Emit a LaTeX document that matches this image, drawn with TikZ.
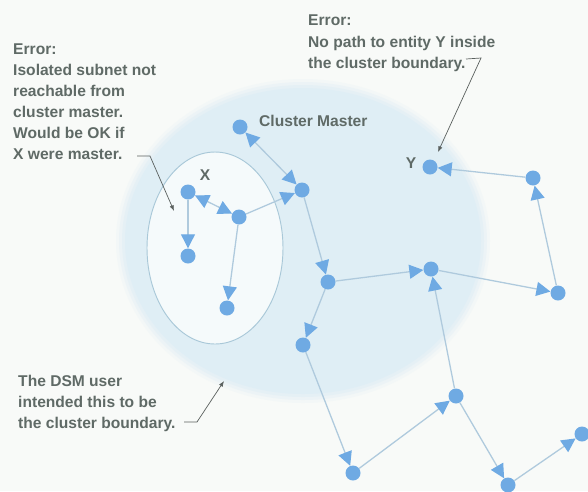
\documentclass[tikz,border=0pt]{standalone}
\usepackage{fontspec}
\setmainfont{Liberation Sans}
\usetikzlibrary{arrows.meta,positioning,calc}
\definecolor{paper}{HTML}{F8FAF8}
\definecolor{clusterFill}{HTML}{DFEEF5}
\definecolor{subnetFill}{HTML}{F5FAFB}
\definecolor{subnetLine}{HTML}{A9C8D8}
\definecolor{entityBlue}{HTML}{6FAAE3}
\definecolor{linkBlue}{HTML}{AFCADD}
\definecolor{ink}{HTML}{5F6A66}
\definecolor{leaderInk}{HTML}{5A605E}

\begin{document}
\begin{tikzpicture}[
  x=0.03cm, y=-0.03cm,
  font=\fontsize{13.3}{18}\selectfont\bfseries,
  enttip/.tip={Triangle[length=0.42cm, width=0.42cm, color=entityBlue]},
  entity/.style={circle, fill=entityBlue, minimum size=0.45cm, inner sep=0pt},
  link/.style={-enttip, draw=linkBlue, line width=1.1pt},
  twoway/.style={enttip-enttip, draw=linkBlue, line width=1.1pt},
  note/.style={text=ink, align=left, inner sep=0pt, anchor=north west},
  tag/.style={text=ink, inner sep=0pt, anchor=base},
  pointer/.style={draw=leaderInk, line width=0.6pt, -{Latex[length=1.7mm, width=1.3mm]}}
]
\useasboundingbox (0,0) rectangle (588,491);
\fill[paper] (0,0) rectangle (588,491);

% ------------------------------------------------------------------
% Cluster boundary and isolated subnet
% ------------------------------------------------------------------
\foreach \d/\o in {10/0.2,7/0.35,4/0.5} {
  \fill[clusterFill, opacity=\o] (303,241) ellipse [x radius=177+\d, y radius=152+\d];
}
\fill[clusterFill] (303,241) ellipse [x radius=178, y radius=153];
\draw[subnetLine, fill=subnetFill, line width=0.8pt] (215,248) ellipse [x radius=68, y radius=96];

% ------------------------------------------------------------------
% Entities
% ------------------------------------------------------------------
\node[entity] (master) at (240,127) {};
\node[entity] (relay)  at (302,190) {};
\node[entity] (x)      at (188,192) {};
\node[entity] (xhub)   at (239,217) {};
\node[entity] (xleaf)  at (188,256) {};
\node[entity] (xlow)   at (227,308) {};
\node[entity] (split)  at (328,282) {};
\node[entity] (cross)  at (431,269) {};
\node[entity] (east)   at (558,293) {};
\node[entity] (corner) at (533,178) {};
\node[entity] (y)      at (430,167) {};
\node[entity] (drop)   at (303,345) {};
\node[entity] (bottom) at (353,473) {};
\node[entity] (rise)   at (456,396) {};
\node[entity] (dip)    at (508,485) {};
\node[entity] (tail)   at (582,434) {};

\node[tag, anchor=base west] (mastertag) at (259,126) {Cluster Master};
\node[tag] (xtag) at (205,180) {X};
\node[tag] (ytag) at (411,168) {Y};

% ------------------------------------------------------------------
% Links
% ------------------------------------------------------------------
\draw[twoway] (master) -- (relay);
\draw[twoway] (x) -- (xhub);
\draw[link] (xhub) -- (relay);
\draw[link] (x) -- (xleaf);
\draw[link] (xhub) -- (xlow);
\draw[link] (relay) -- (split);
\draw[link] (split) -- (cross);
\draw[link] (cross) -- (east);
\draw[link] (east) -- (corner);
\draw[link] (corner) -- (y);
\draw[link] (split) -- (drop);
\draw[link] (drop) -- (bottom);
\draw[link] (bottom) -- (rise);
\draw[link] (rise) -- (cross);
\draw[link] (rise) -- (dip);
\draw[link] (dip) -- (tail);

% ------------------------------------------------------------------
% Annotations
% ------------------------------------------------------------------
\node[note] (isolated) at (13,43.5)
{Error:\\Isolated subnet not\\reachable from\\cluster master.\\Would be OK if\\X were master.};
\node[note] (nopath) at (308,15)
{Error:\\No path to entity Y inside\\the cluster boundary.};
\node[note] (intended) at (18,375)
{The DSM user\\intended this to be\\the cluster boundary.};

\coordinate (isotail) at (137,156);
\coordinate (isotip) at (174,211);
\coordinate (pathtail) at (466,59);
\coordinate (pathtip) at (438,152);
\coordinate (inttail) at (184,422);
\coordinate (inttip) at (224,381);
\draw[pointer] (isotail) -- ++(13,0) -- (isotip);
\draw[pointer] (pathtail) -- ++(15,-1) -- (pathtip);
\draw[pointer] (inttail) -- ++(13,0) -- (inttip);

\end{tikzpicture}
\end{document}
